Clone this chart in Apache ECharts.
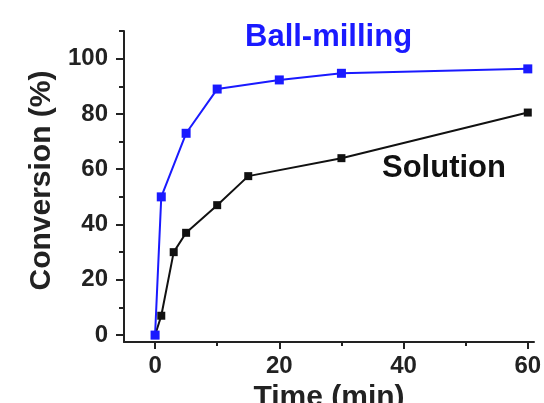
<!DOCTYPE html>
<html>
<head>
<meta charset="utf-8">
<script src="https://cdn.jsdelivr.net/npm/echarts@6/dist/echarts.min.js"></script>
<style>html,body{margin:0;padding:0;background:#fff}#c{width:544px;height:403px}</style>
</head>
<body>
<div id="c"></div>
<script>
var timeBall = [0, 1, 5, 10, 20, 30, 60];
var convBall = [0, 50, 73, 89, 92.3, 94.7, 96.3];
var timeSol = [0, 1, 3, 5, 10, 15, 30, 60];
var convSol = [0, 7, 30, 37, 47, 57.5, 64, 80.5];
var xMajor = [0, 20, 40, 60];
var xMinor = [10, 30, 50];
var yMajor = [0, 20, 40, 60, 80, 100];
var yMinor = [10, 30, 50, 70, 90, 110];
var labelBall = 'Ball-milling';
var labelSol = 'Solution';
var xName = 'Time (min)';
var yName = 'Conversion (%)';

function pairs(xs, ys){ return xs.map(function(x,i){ return [x, ys[i]]; }); }

var FONT = '"Liberation Sans", Arial, sans-serif';
var AX = '#222';
var chart = echarts.init(document.getElementById('c'), null, {renderer:'canvas'});
chart.setOption({
  animation: false,
  backgroundColor: '#fff',
  grid: {left: 124, right: 10, top: 31, bottom: 61, containLabel: false, outerBoundsMode: 'none'},
  xAxis: [{
    type: 'value', min: -5, max: 61, position: 'bottom',
    name: xName, nameLocation: 'middle', nameGap: 39,
    nameTextStyle: {fontFamily: FONT, fontWeight: 'bold', fontSize: 30, color: AX},
    axisLine: {show: true, onZero: false, lineStyle: {color: AX, width: 2}},
    axisTick: {show: true, inside: false, length: 7, lineStyle: {color: AX, width: 2}, customValues: xMajor},
    axisLabel: {show: true, margin: 12, fontFamily: FONT, fontWeight: 'bold', fontSize: 24, color: AX, customValues: xMajor},
    splitLine: {show: false}
  },{
    type: 'value', min: -5, max: 61, position: 'bottom',
    axisLine: {show: false, onZero: false},
    axisTick: {show: true, inside: false, length: 4, lineStyle: {color: AX, width: 2}, customValues: xMinor},
    axisLabel: {show: false},
    splitLine: {show: false}
  }],
  yAxis: [{
    type: 'value', min: -2.5, max: 110, position: 'left',
    name: yName, nameLocation: 'middle', nameGap: 64, nameRotate: 90,
    nameTextStyle: {fontFamily: FONT, fontWeight: 'bold', fontSize: 30, color: AX, padding: [0, 0, 0, 12]},
    axisLine: {show: true, onZero: false, lineStyle: {color: AX, width: 2}},
    axisTick: {show: true, inside: false, length: 8, lineStyle: {color: AX, width: 2}, customValues: yMajor},
    axisLabel: {show: true, margin: 16, fontFamily: FONT, fontWeight: 'bold', fontSize: 24, color: AX, customValues: yMajor},
    splitLine: {show: false}
  },{
    type: 'value', min: -2.5, max: 110, position: 'left',
    axisLine: {show: false, onZero: false},
    axisTick: {show: true, inside: false, length: 5, lineStyle: {color: AX, width: 2}, customValues: yMinor},
    axisLabel: {show: false},
    splitLine: {show: false}
  }],
  series: [{
    name: labelSol, type: 'line', xAxisIndex: 0, yAxisIndex: 0,
    data: pairs(timeSol, convSol),
    symbol: 'rect', symbolSize: 8,
    lineStyle: {color: '#111', width: 2},
    itemStyle: {color: '#111'}
  },{
    name: labelBall, type: 'line', xAxisIndex: 0, yAxisIndex: 0,
    data: pairs(timeBall, convBall),
    symbol: 'rect', symbolSize: 9,
    lineStyle: {color: '#1a1aff', width: 2},
    itemStyle: {color: '#1a1aff'}
  }],
  graphic: [{
    type: 'text', left: 245, top: 22,
    style: {text: labelBall, fill: '#1a1aff', font: 'bold 31px ' + FONT}
  },{
    type: 'text', left: 382, top: 153,
    style: {text: labelSol, fill: '#111', font: 'bold 31px ' + FONT}
  }]
});
</script>
</body>
</html>
